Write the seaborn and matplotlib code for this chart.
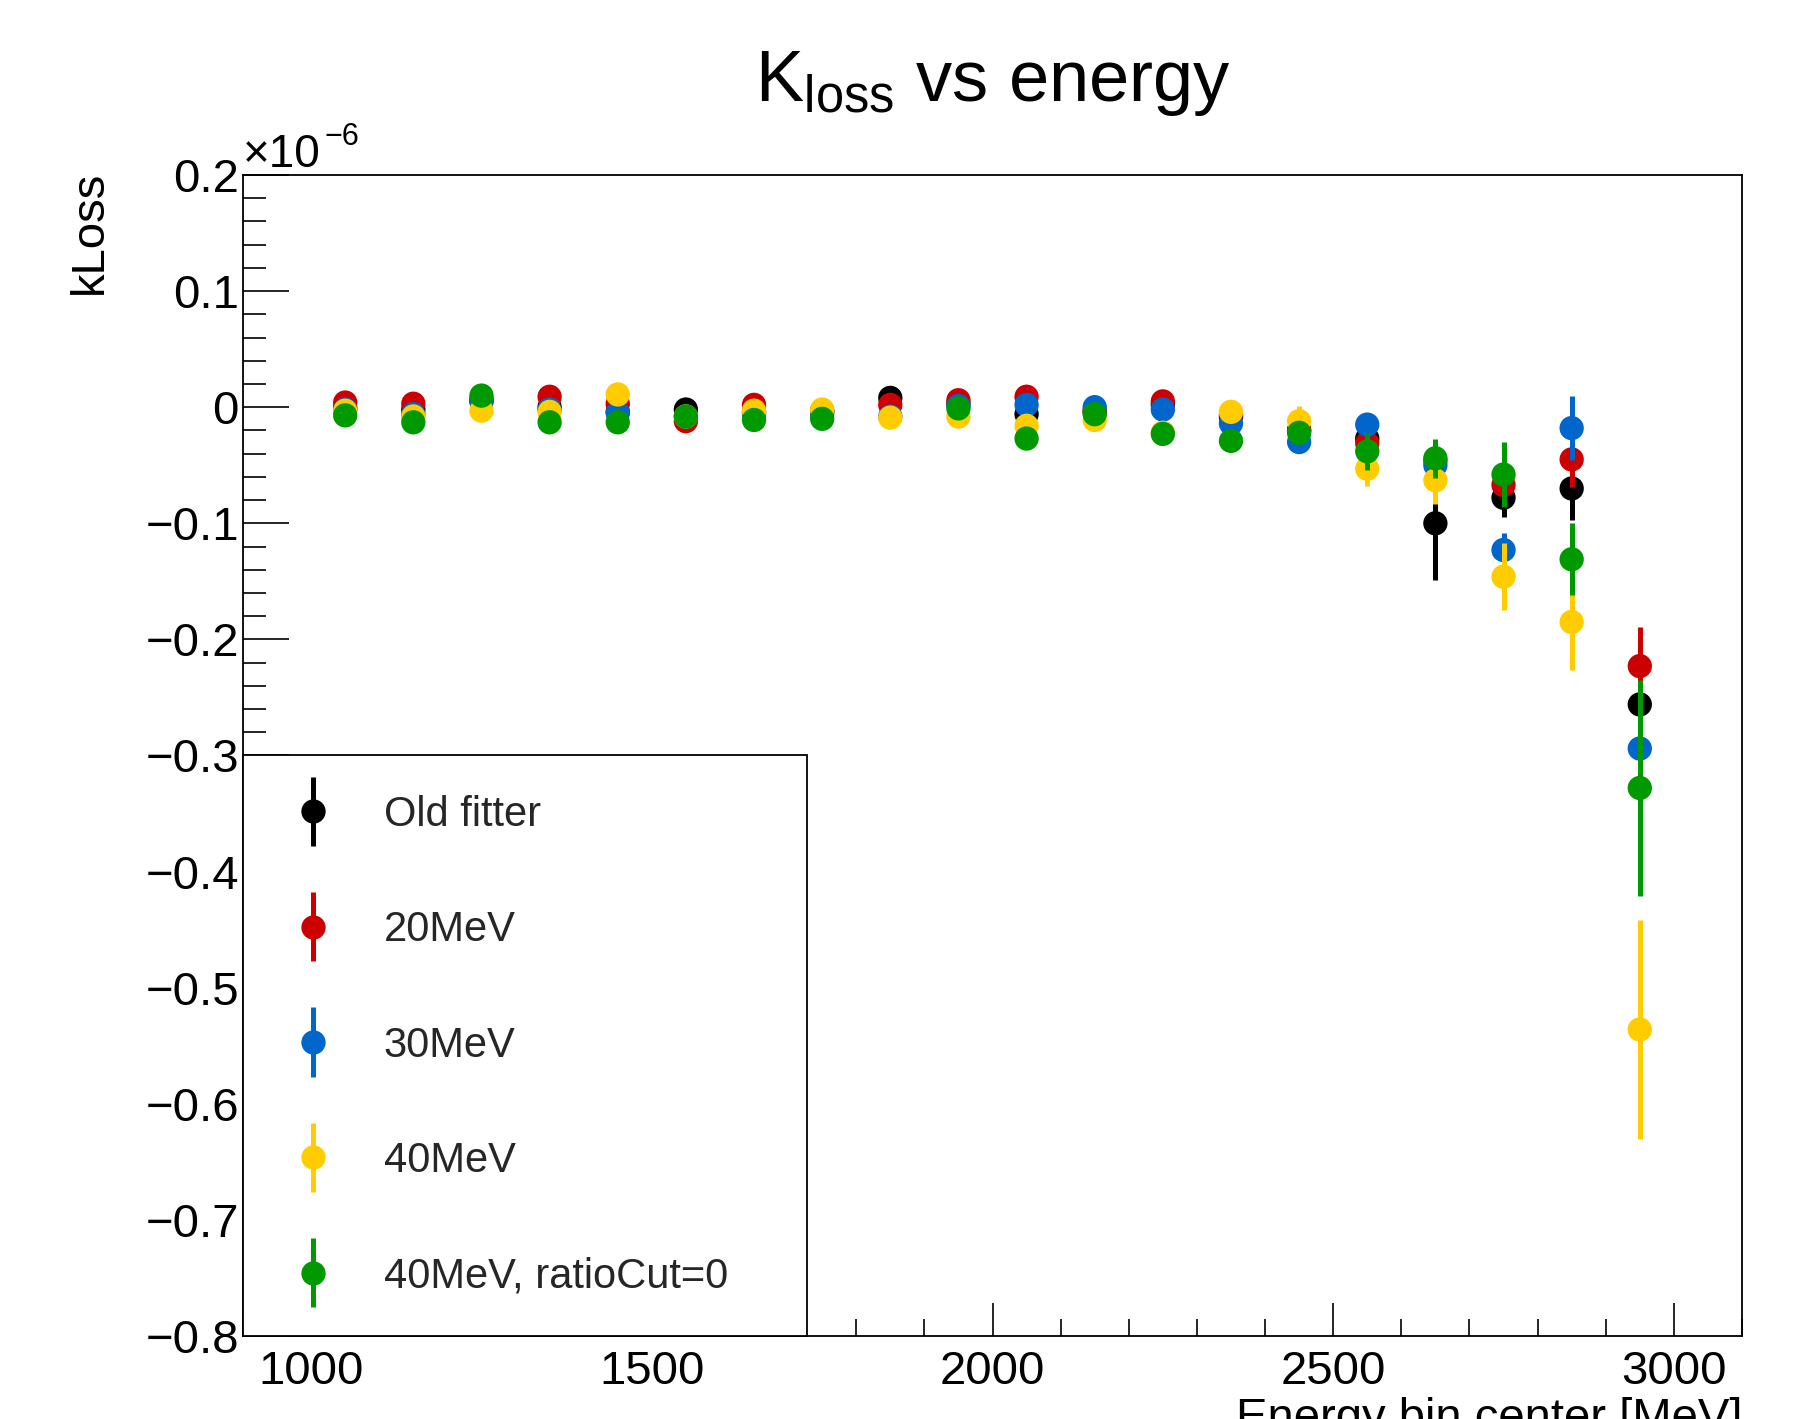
import numpy as np
import pandas as pd
import matplotlib
matplotlib.use("Agg")
import matplotlib.pyplot as plt
from matplotlib.ticker import MultipleLocator, FuncFormatter
from matplotlib.container import ErrorbarContainer
from matplotlib.lines import Line2D
from matplotlib.legend_handler import HandlerErrorbar
import seaborn as sns

# ---------------- data (kLoss in units of 1e-6) ----------------
energy = [1050, 1150, 1250, 1350, 1450, 1550, 1650, 1750, 1850, 1950,
          2050, 2150, 2250, 2350, 2450, 2550, 2650, 2750, 2850, 2950]

labels = ["Old fitter", "20MeV", "30MeV", "40MeV", "40MeV, ratioCut=0"]
colors = ["#000000", "#cc0000", "#0066cc", "#ffcc00", "#009900"]

old_fitter = [0.000, -0.002, 0.005, 0.000, -0.004, -0.002, -0.004, -0.003, 0.008, 0.003,
              -0.006, -0.004, 0.002, -0.008, -0.020, -0.027, -0.100, -0.078, -0.070, -0.256]
old_fitter_err = [0.004, 0.004, 0.004, 0.004, 0.004, 0.004, 0.004, 0.004, 0.004, 0.004,
                  0.004, 0.004, 0.004, 0.005, 0.007, 0.010, 0.049, 0.017, 0.027, 0.040]

mev20 = [0.004, 0.003, 0.007, 0.009, 0.003, -0.012, 0.002, -0.004, 0.002, 0.006,
         0.009, -0.003, 0.005, -0.006, -0.020, -0.031, -0.046, -0.067, -0.045, -0.223]
mev20_err = [0.004, 0.004, 0.004, 0.004, 0.004, 0.004, 0.004, 0.004, 0.004, 0.004,
             0.004, 0.004, 0.004, 0.005, 0.007, 0.010, 0.015, 0.018, 0.024, 0.034]

mev30 = [-0.002, -0.006, 0.006, -0.002, -0.005, -0.008, -0.006, -0.006, -0.008, 0.001,
         0.002, 0.000, -0.002, -0.014, -0.030, -0.015, -0.050, -0.123, -0.018, -0.294]
mev30_err = [0.004, 0.004, 0.004, 0.004, 0.004, 0.004, 0.004, 0.004, 0.004, 0.004,
             0.004, 0.004, 0.004, 0.005, 0.007, 0.008, 0.014, 0.015, 0.0275, 0.045]

mev40 = [-0.003, -0.008, -0.003, -0.004, 0.011, -0.008, -0.003, -0.002, -0.009, -0.008,
         -0.016, -0.011, -0.022, -0.004, -0.012, -0.053, -0.063, -0.146, -0.185, -0.536]
mev40_err = [0.004, 0.004, 0.004, 0.004, 0.004, 0.004, 0.004, 0.004, 0.004, 0.004,
             0.004, 0.004, 0.004, 0.006, 0.013, 0.015, 0.020, 0.029, 0.041, 0.094]

mev40_cut0 = [-0.007, -0.013, 0.010, -0.013, -0.013, -0.008, -0.011, -0.010, np.nan, -0.001,
              -0.027, -0.006, -0.023, -0.029, -0.022, -0.038, -0.044, -0.058, -0.131, -0.328]
mev40_cut0_err = [0.004, 0.004, 0.004, 0.004, 0.004, 0.004, 0.004, 0.004, np.nan, 0.004,
                  0.004, 0.004, 0.004, 0.005, 0.008, 0.016, 0.017, 0.028, 0.031, 0.093]

series_vals = [old_fitter, mev20, mev30, mev40, mev40_cut0]
series_errs = [old_fitter_err, mev20_err, mev30_err, mev40_err, mev40_cut0_err]

# ---------------- style ----------------
sns.set_theme(style="ticks")
plt.rcParams["font.family"] = ["Liberation Sans", "DejaVu Sans"]
plt.rcParams["mathtext.fontset"] = "custom"
plt.rcParams["mathtext.rm"] = "Liberation Sans"
plt.rcParams["mathtext.it"] = "Liberation Sans:italic"
plt.rcParams["mathtext.bf"] = "Liberation Sans:bold"
plt.rcParams["axes.unicode_minus"] = True

FS_TICK = 34
FS_LEG = 30
FS_LAB = 34
fig = plt.figure(figsize=(18.15, 14.19), dpi=100)
fig.patch.set_facecolor("white")
ax = fig.add_axes([243 / 1815, 1 - 1336 / 1419, 1499 / 1815, 1161 / 1419])
ax.set_facecolor("white")

MS = 17.5
ELW = 3.6
handles = []
for i, (lab, col, vals, errs) in enumerate(zip(labels, colors, series_vals, series_errs)):
    df = pd.DataFrame({"energy": energy, "kloss": vals, "err": errs}).dropna()
    eb = ax.errorbar(df["energy"], df["kloss"], yerr=df["err"], fmt="none",
                     ecolor=col, elinewidth=ELW, capsize=0, zorder=3 + 2 * i)
    sns.scatterplot(data=df, x="energy", y="kloss", color=col, s=MS ** 2,
                    edgecolor="none", linewidth=0, marker="o", ax=ax,
                    legend=False, zorder=4 + 2 * i)
    marker_line = Line2D([], [], marker="o", linestyle="none", color=col,
                         markersize=MS, markeredgewidth=0)
    h = ErrorbarContainer((marker_line, (), tuple(eb[2])), has_xerr=False,
                          has_yerr=True, label=lab)
    handles.append(h)

# ---------------- axes ----------------
ax.set_xlim(900, 3100)
ax.set_ylim(-0.8, 0.2)
ax.xaxis.set_major_locator(MultipleLocator(500))
ax.xaxis.set_minor_locator(MultipleLocator(100))
ax.yaxis.set_major_locator(MultipleLocator(0.1))
ax.yaxis.set_minor_locator(MultipleLocator(0.02))


def yfmt(v, pos):
    if abs(v) < 1e-9:
        return "0"
    s = f"{v:.1f}"
    return s.replace("-", "\u2212")


ax.yaxis.set_major_formatter(FuncFormatter(yfmt))
ax.xaxis.set_major_formatter(FuncFormatter(lambda v, p: f"{int(round(v))}"))

ax.tick_params(axis="both", which="both", direction="in", top=False, right=False,
               colors="black", labelcolor="black")
ax.tick_params(axis="x", which="major", length=24, width=1.2, pad=10, labelsize=FS_TICK)
ax.tick_params(axis="x", which="minor", length=12, width=1.2)
ax.tick_params(axis="y", which="major", length=33, width=1.2, pad=3, labelsize=FS_TICK)
ax.tick_params(axis="y", which="minor", length=16.5, width=1.2)

for sp in ax.spines.values():
    sp.set_visible(True)
    sp.set_color("black")
    sp.set_linewidth(1.3)
ax.grid(False)

ax.set_xlabel("Energy bin center [MeV]", loc="right", fontsize=FS_LAB, color="black")
ax.xaxis.set_label_coords(1.0, -0.0525)
ax.set_ylabel("kLoss", loc="top", fontsize=FS_LAB, color="black")
ax.yaxis.set_label_coords(-0.0878, 1.004)

# exponent label (x10^-6) in ROOT style
ax.text(0.0, 1.0069, "\u00d710", transform=ax.transAxes,
        ha="left", va="baseline", fontsize=33, color="black")
ax.text(0.0545, 1.0258, "\u22126", transform=ax.transAxes,
        ha="left", va="baseline", fontsize=22, color="black")

ax.set_title(r"K$_{\mathregular{loss}}$ vs energy", fontsize=52, pad=53, color="black")

leg = ax.legend(handles=handles, labels=labels, loc="lower left",
                bbox_to_anchor=(0.0, 0.0, 0.376, 0.5), mode="expand",
                borderaxespad=0.0, fontsize=FS_LEG, frameon=True, fancybox=False,
                framealpha=1.0, edgecolor="black", facecolor="white",
                borderpad=0.95, handlelength=1.45, handletextpad=0.98,
                labelspacing=1.81, numpoints=1,
                handler_map={ErrorbarContainer: HandlerErrorbar(yerr_size=0.83)})
leg.get_frame().set_linewidth(1.3)
leg.set_zorder(20)

fig.savefig("out.png", dpi=100, facecolor="white")
